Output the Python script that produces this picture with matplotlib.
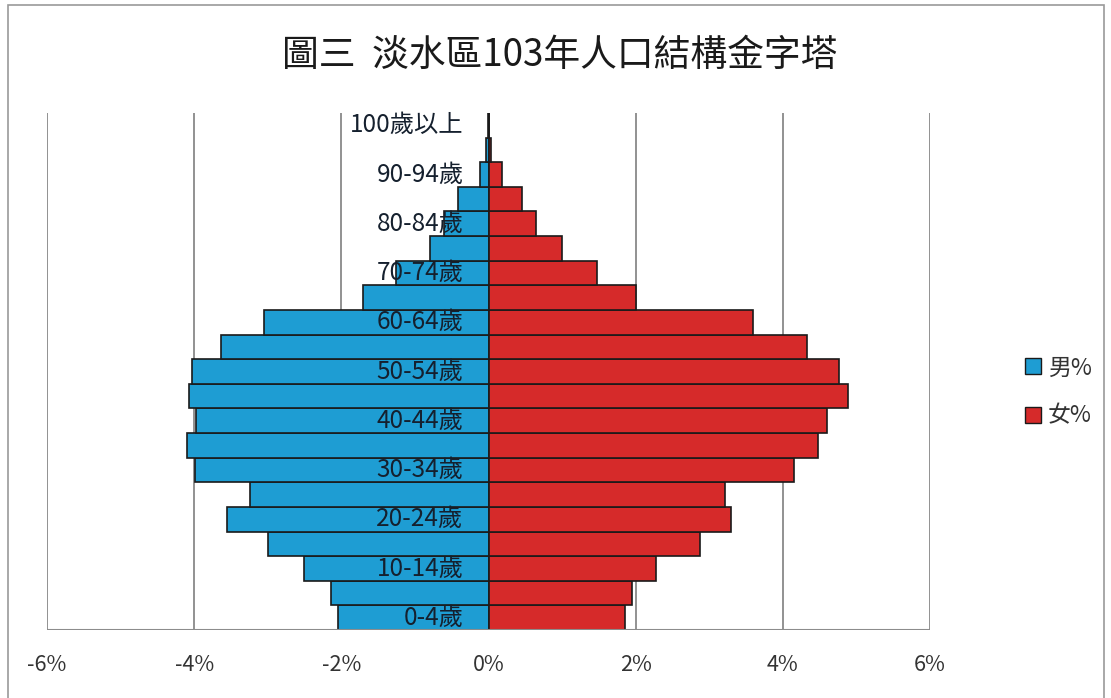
import matplotlib
matplotlib.use("Agg")
import matplotlib.pyplot as plt
from matplotlib.patches import Rectangle, Patch

plt.rcParams['font.family'] = ['Noto Sans CJK TC', 'DejaVu Sans']

# Data (percent of total population)
age_groups = ["0-4歲", "5-9歲", "10-14歲", "15-19歲", "20-24歲", "25-29歲", "30-34歲",
              "35-39歲", "40-44歲", "45-49歲", "50-54歲", "55-59歲", "60-64歲", "65-69歲",
              "70-74歲", "75-79歲", "80-84歲", "85-89歲", "90-94歲", "95-99歲", "100歲以上"]
male_pct = [2.04, 2.14, 2.51, 2.99, 3.56, 3.24, 3.99, 4.10, 3.97, 4.07, 4.03, 3.63, 3.05,
            1.70, 1.26, 0.80, 0.60, 0.41, 0.11, 0.04, 0.01]
female_pct = [1.86, 1.95, 2.27, 2.87, 3.30, 3.22, 4.15, 4.48, 4.60, 4.89, 4.76, 4.33, 3.59,
              2.00, 1.47, 1.00, 0.65, 0.46, 0.18, 0.04, 0.01]
shown_labels = ["0-4歲", "10-14歲", "20-24歲", "30-34歲", "40-44歲", "50-54歲",
                "60-64歲", "70-74歲", "80-84歲", "90-94歲", "100歲以上"]
x_ticks = [-6, -4, -2, 0, 2, 4, 6]
x_tick_labels = ["-6%", "-4%", "-2%", "0%", "2%", "4%", "6%"]
title = "圖三  淡水區103年人口結構金字塔"
legend_labels = ["男%", "女%"]

blue = "#1E9DD3"
red = "#D62A2A"

W, H = 1111, 698
fig = plt.figure(figsize=(W / 100, H / 100), dpi=100)
fig.patch.set_facecolor("white")

# outer chart border
fig.add_artist(Rectangle((8 / W, -0.01), (1104 - 8) / W, (H - 5) / H + 0.01,
                         transform=fig.transFigure, fill=False,
                         edgecolor="#9a9a9a", linewidth=1.2))

ax = fig.add_axes([47 / W, (H - 630) / H, (930 - 47) / W, (630 - 113) / H])
y = list(range(len(age_groups)))
ax.barh(y, [-v for v in male_pct], height=1.0, color=blue, edgecolor="#1a1a1a",
        linewidth=1.2, zorder=3, label=legend_labels[0])
ax.barh(y, female_pct, height=1.0, color=red, edgecolor="#1a1a1a",
        linewidth=1.2, zorder=3, label=legend_labels[1])

ax.set_xlim(-6, 6)
ax.set_ylim(-0.5, len(age_groups) - 0.5)
for xv in x_ticks:
    ax.axvline(xv, color="#7f7f7f", linewidth=1.2, zorder=1)
ax.axhline(-0.5, color="#8c8c8c", linewidth=1.5, zorder=4)

for s in ax.spines.values():
    s.set_visible(False)
ax.set_yticks([])
ax.set_xticks(x_ticks)
ax.set_xticklabels(x_tick_labels, fontsize=15.5, color="#333333")
ax.tick_params(axis="x", length=0, pad=17)

for i, lab in enumerate(age_groups):
    if lab in shown_labels:
        ax.annotate(lab, xy=(0, i), xytext=(-18, 0), textcoords="offset points",
                    ha="right", va="center", fontsize=17.5, color="#15202e", zorder=5)

fig.text(560 / W, 1 - 55 / H, title, ha="center", va="center", fontsize=26.5,
         color="#1a1a1a")

handles = [Patch(facecolor=blue, edgecolor="#1a1a1a", linewidth=1.0),
           Patch(facecolor=red, edgecolor="#1a1a1a", linewidth=1.0)]
fig.legend(handles, legend_labels, loc="center left", bbox_to_anchor=(1025 / W, 1 - 392 / H),
           frameon=False, fontsize=16.5, handlelength=0.7, handleheight=0.7,
           handletextpad=0.3, labelspacing=1.1, labelcolor="#333333",
           borderpad=0, borderaxespad=0)

fig.savefig("out.png", dpi=100, facecolor="white")
